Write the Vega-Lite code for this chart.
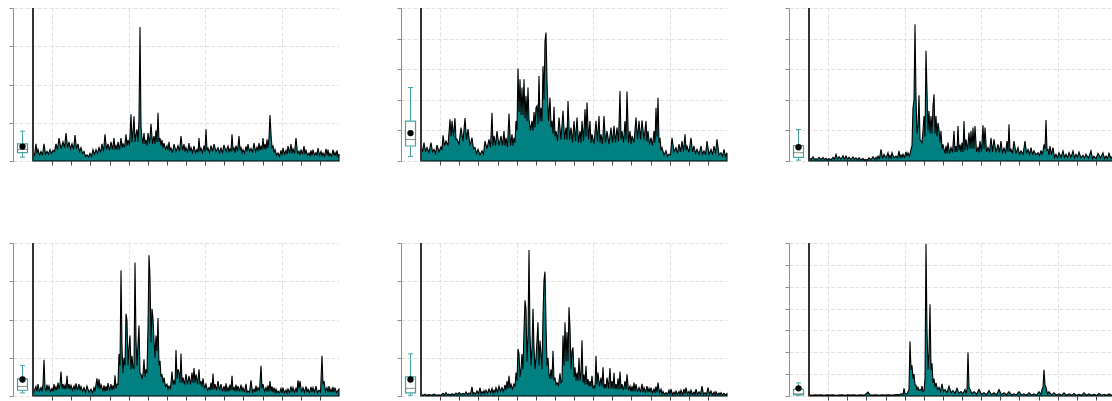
{
"$schema": "https://vega.github.io/schema/vega-lite/v6.json",
"background": "white",
"padding": {"left": 8, "top": 7, "right": 0, "bottom": 0},
"config": {"view": {"stroke": null}, "axis": {"labels": false, "title": null}, "scale": {"continuousPadding": 0}},
"datasets": {
"p1": [{"t":0,"v":0.2},{"t":1.5,"v":0.15},{"t":3,"v":0.45},{"t":4,"v":0.2},{"t":5,"v":0.3},{"t":6.5,"v":0.15},{"t":8,"v":0.25},{"t":9.5,"v":0.15},{"t":11,"v":0.45},{"t":12.5,"v":0.18},{"t":14,"v":0.25},{"t":15.5,"v":0.18},{"t":17,"v":0.3},{"t":18.5,"v":0.2},{"t":20,"v":0.28},{"t":21.5,"v":0.25},{"t":23,"v":0.45},{"t":24.5,"v":0.3},{"t":26,"v":0.6},{"t":28,"v":0.32},{"t":30,"v":0.5},{"t":31.5,"v":0.35},{"t":33,"v":0.73},{"t":34.5,"v":0.35},{"t":36,"v":0.5},{"t":37.5,"v":0.32},{"t":39,"v":0.45},{"t":40.5,"v":0.3},{"t":42,"v":0.68},{"t":43.5,"v":0.32},{"t":45,"v":0.45},{"t":46.5,"v":0.25},{"t":48,"v":0.35},{"t":49.5,"v":0.2},{"t":51,"v":0.25},{"t":52.5,"v":0.12},{"t":54,"v":0.16},{"t":55.5,"v":0.1},{"t":57,"v":0.2},{"t":58.5,"v":0.12},{"t":60,"v":0.3},{"t":61.5,"v":0.18},{"t":63,"v":0.3},{"t":64.5,"v":0.2},{"t":66,"v":0.35},{"t":67.5,"v":0.22},{"t":69,"v":0.45},{"t":70.5,"v":0.25},{"t":72,"v":0.7},{"t":73.5,"v":0.3},{"t":75,"v":0.45},{"t":76.5,"v":0.28},{"t":78,"v":0.5},{"t":79.5,"v":0.3},{"t":81,"v":0.6},{"t":82,"v":0.3},{"t":83,"v":0.4},{"t":84,"v":0.3},{"t":85,"v":0.5},{"t":86.5,"v":0.3},{"t":88,"v":0.6},{"t":89,"v":0.35},{"t":90,"v":0.45},{"t":91.5,"v":0.35},{"t":93,"v":0.7},{"t":94,"v":0.4},{"t":95,"v":0.55},{"t":96.5,"v":0.4},{"t":98,"v":1.22},{"t":99,"v":0.5},{"t":100,"v":0.78},{"t":101,"v":1.17},{"t":102,"v":0.5},{"t":103,"v":0.7},{"t":104,"v":0.83},{"t":105,"v":0.5},{"t":106,"v":1.1},{"t":107,"v":3.5},{"t":108,"v":0.9},{"t":109,"v":0.6},{"t":110,"v":0.45},{"t":111,"v":0.73},{"t":112,"v":0.45},{"t":113,"v":0.55},{"t":114,"v":0.4},{"t":115,"v":0.73},{"t":116.5,"v":0.45},{"t":118,"v":0.97},{"t":119.5,"v":0.45},{"t":121,"v":0.65},{"t":122,"v":0.45},{"t":123,"v":0.8},{"t":124,"v":0.5},{"t":125,"v":1.26},{"t":126,"v":0.5},{"t":127,"v":0.6},{"t":128,"v":0.4},{"t":129,"v":0.55},{"t":130,"v":0.35},{"t":131,"v":0.47},{"t":132.5,"v":0.3},{"t":134,"v":0.4},{"t":135,"v":0.28},{"t":136,"v":0.5},{"t":137,"v":0.28},{"t":138,"v":0.34},{"t":139.5,"v":0.22},{"t":141,"v":0.44},{"t":143,"v":0.25},{"t":145,"v":0.4},{"t":146.5,"v":0.25},{"t":148,"v":0.65},{"t":149.5,"v":0.28},{"t":151,"v":0.44},{"t":152,"v":0.25},{"t":153,"v":0.35},{"t":154.5,"v":0.22},{"t":156,"v":0.47},{"t":157,"v":0.25},{"t":158,"v":0.35},{"t":159.5,"v":0.22},{"t":161,"v":0.39},{"t":162.5,"v":0.22},{"t":164,"v":0.3},{"t":165,"v":0.22},{"t":166,"v":0.6},{"t":167,"v":0.25},{"t":168,"v":0.34},{"t":169.5,"v":0.22},{"t":171,"v":0.4},{"t":172,"v":0.25},{"t":173,"v":0.83},{"t":174,"v":0.28},{"t":175,"v":0.34},{"t":176.5,"v":0.22},{"t":178,"v":0.4},{"t":179.5,"v":0.25},{"t":181,"v":0.44},{"t":183,"v":0.25},{"t":185,"v":0.35},{"t":186.5,"v":0.22},{"t":188,"v":0.34},{"t":189.5,"v":0.22},{"t":191,"v":0.42},{"t":193,"v":0.25},{"t":195,"v":0.39},{"t":196,"v":0.25},{"t":197,"v":0.32},{"t":198,"v":0.25},{"t":199,"v":0.7},{"t":200,"v":0.3},{"t":201,"v":0.34},{"t":202,"v":0.22},{"t":203,"v":0.4},{"t":204.5,"v":0.25},{"t":206,"v":0.65},{"t":207,"v":0.28},{"t":208,"v":0.35},{"t":209,"v":0.22},{"t":210,"v":0.3},{"t":211.5,"v":0.2},{"t":213,"v":0.38},{"t":214,"v":0.25},{"t":215,"v":0.44},{"t":216.5,"v":0.25},{"t":218,"v":0.33},{"t":219.5,"v":0.22},{"t":221,"v":0.47},{"t":222.5,"v":0.25},{"t":224,"v":0.36},{"t":225,"v":0.25},{"t":226,"v":0.47},{"t":227,"v":0.28},{"t":228,"v":0.4},{"t":229,"v":0.3},{"t":230,"v":0.6},{"t":231,"v":0.3},{"t":232,"v":0.45},{"t":233,"v":0.3},{"t":234,"v":0.57},{"t":235,"v":0.35},{"t":236,"v":0.6},{"t":237,"v":1.2},{"t":238,"v":0.7},{"t":239,"v":0.35},{"t":240,"v":0.39},{"t":241,"v":0.22},{"t":242,"v":0.3},{"t":243.5,"v":0.15},{"t":245,"v":0.21},{"t":246.5,"v":0.12},{"t":248,"v":0.28},{"t":249,"v":0.15},{"t":250,"v":0.34},{"t":251.5,"v":0.18},{"t":253,"v":0.28},{"t":254,"v":0.18},{"t":255,"v":0.39},{"t":256.5,"v":0.2},{"t":258,"v":0.44},{"t":259,"v":0.2},{"t":260,"v":0.32},{"t":261.5,"v":0.2},{"t":263,"v":0.6},{"t":264.5,"v":0.2},{"t":266,"v":0.26},{"t":267,"v":0.15},{"t":268,"v":0.3},{"t":269.5,"v":0.18},{"t":271,"v":0.39},{"t":272,"v":0.18},{"t":273,"v":0.28},{"t":274.5,"v":0.15},{"t":276,"v":0.21},{"t":277,"v":0.12},{"t":278,"v":0.28},{"t":279,"v":0.15},{"t":280,"v":0.3},{"t":281.5,"v":0.15},{"t":283,"v":0.22},{"t":284,"v":0.14},{"t":285,"v":0.34},{"t":286.5,"v":0.15},{"t":288,"v":0.25},{"t":289,"v":0.14},{"t":290,"v":0.21},{"t":291.5,"v":0.12},{"t":293,"v":0.32},{"t":294,"v":0.15},{"t":295,"v":0.3},{"t":296,"v":0.12},{"t":297,"v":0.2},{"t":298.5,"v":0.12},{"t":300,"v":0.3},{"t":301,"v":0.14},{"t":302,"v":0.22},{"t":303,"v":0.14},{"t":304,"v":0.28},{"t":305,"v":0.12},{"t":306,"v":0.18}],
"p2": [{"t":0,"v":0.49},{"t":1.5,"v":0.3},{"t":3,"v":0.6},{"t":4.5,"v":0.3},{"t":6,"v":0.44},{"t":8,"v":0.28},{"t":10,"v":0.6},{"t":11.5,"v":0.3},{"t":13,"v":0.38},{"t":14.5,"v":0.25},{"t":16,"v":0.52},{"t":18,"v":0.3},{"t":20,"v":0.46},{"t":21,"v":0.35},{"t":22,"v":0.84},{"t":23.5,"v":0.5},{"t":25,"v":0.65},{"t":27,"v":0.5},{"t":29,"v":1.36},{"t":30,"v":0.8},{"t":31,"v":1.31},{"t":32.5,"v":0.8},{"t":34,"v":1.4},{"t":35,"v":0.7},{"t":36,"v":0.71},{"t":38,"v":0.55},{"t":40,"v":1.09},{"t":42,"v":0.65},{"t":44,"v":1.4},{"t":45.5,"v":0.7},{"t":47,"v":1.04},{"t":49,"v":0.5},{"t":51,"v":0.76},{"t":52.5,"v":0.4},{"t":54,"v":0.44},{"t":55.5,"v":0.25},{"t":57,"v":0.38},{"t":59,"v":0.2},{"t":61,"v":0.33},{"t":62.5,"v":0.22},{"t":64,"v":0.65},{"t":66,"v":0.4},{"t":68,"v":0.71},{"t":69.5,"v":0.45},{"t":71,"v":1.58},{"t":72,"v":0.5},{"t":73,"v":0.82},{"t":74.5,"v":0.5},{"t":76,"v":0.98},{"t":78,"v":0.5},{"t":80,"v":0.82},{"t":81.5,"v":0.5},{"t":83,"v":0.98},{"t":84,"v":0.5},{"t":85,"v":0.76},{"t":86.5,"v":0.45},{"t":88,"v":1.55},{"t":89.5,"v":0.5},{"t":91,"v":0.87},{"t":92,"v":0.5},{"t":93,"v":0.76},{"t":94,"v":0.6},{"t":95,"v":1.31},{"t":96,"v":1.0},{"t":97,"v":3.02},{"t":98,"v":1.6},{"t":99,"v":2.67},{"t":100,"v":1.5},{"t":101,"v":2.4},{"t":102,"v":1.5},{"t":103,"v":2.67},{"t":104,"v":1.4},{"t":105,"v":2.13},{"t":106,"v":1.3},{"t":107,"v":2.4},{"t":108,"v":1.36},{"t":109.5,"v":1.0},{"t":111,"v":1.31},{"t":112,"v":1.0},{"t":113,"v":1.6},{"t":114,"v":1.1},{"t":115,"v":1.74},{"t":116,"v":1.8},{"t":117,"v":1.2},{"t":118,"v":2.78},{"t":119,"v":1.3},{"t":120,"v":1.74},{"t":121,"v":1.3},{"t":122,"v":3.1},{"t":123,"v":2.0},{"t":124,"v":3.93},{"t":125,"v":4.2},{"t":126,"v":2.62},{"t":127.5,"v":1.3},{"t":129,"v":2.07},{"t":130,"v":1.1},{"t":131,"v":1.31},{"t":132,"v":0.9},{"t":133,"v":1.77},{"t":134,"v":0.8},{"t":135,"v":0.98},{"t":136.5,"v":0.65},{"t":138,"v":1.42},{"t":140,"v":0.7},{"t":142,"v":1.64},{"t":143.5,"v":0.7},{"t":145,"v":1.09},{"t":146,"v":0.7},{"t":147,"v":1.96},{"t":148.5,"v":0.7},{"t":150,"v":1.09},{"t":151.5,"v":0.6},{"t":153,"v":1.31},{"t":154.5,"v":0.65},{"t":156,"v":1.42},{"t":157.5,"v":0.6},{"t":159,"v":0.98},{"t":160,"v":0.6},{"t":161,"v":1.31},{"t":162.5,"v":0.65},{"t":164,"v":1.69},{"t":165,"v":0.8},{"t":166,"v":1.91},{"t":167.5,"v":0.7},{"t":169,"v":1.31},{"t":170,"v":0.6},{"t":171,"v":0.87},{"t":173,"v":0.55},{"t":175,"v":1.31},{"t":176.5,"v":0.65},{"t":178,"v":1.47},{"t":179,"v":0.6},{"t":180,"v":0.87},{"t":181.5,"v":0.55},{"t":183,"v":1.47},{"t":184.5,"v":0.6},{"t":186,"v":0.98},{"t":188,"v":0.55},{"t":190,"v":1.09},{"t":191.5,"v":0.6},{"t":193,"v":1.15},{"t":194.5,"v":0.6},{"t":196,"v":1.09},{"t":197.5,"v":0.65},{"t":199,"v":2.29},{"t":200,"v":0.7},{"t":201,"v":0.98},{"t":202.5,"v":0.6},{"t":204,"v":1.31},{"t":205,"v":0.7},{"t":206,"v":2.27},{"t":207.5,"v":0.6},{"t":209,"v":0.98},{"t":210,"v":0.55},{"t":211,"v":0.82},{"t":213,"v":0.6},{"t":215,"v":1.42},{"t":216.5,"v":0.7},{"t":218,"v":1.31},{"t":219.5,"v":0.7},{"t":221,"v":1.33},{"t":223,"v":0.7},{"t":225,"v":1.31},{"t":226,"v":0.65},{"t":227,"v":0.98},{"t":228.5,"v":0.55},{"t":230,"v":0.76},{"t":231.5,"v":0.5},{"t":233,"v":0.98},{"t":234,"v":0.6},{"t":235,"v":1.74},{"t":236,"v":0.8},{"t":237,"v":2.07},{"t":238,"v":0.6},{"t":239,"v":0.76},{"t":240,"v":0.35},{"t":241,"v":0.44},{"t":243,"v":0.2},{"t":245,"v":0.33},{"t":246.5,"v":0.15},{"t":248,"v":0.22},{"t":249.5,"v":0.2},{"t":251,"v":0.76},{"t":253,"v":0.3},{"t":255,"v":0.44},{"t":256.5,"v":0.25},{"t":258,"v":0.55},{"t":259.5,"v":0.3},{"t":261,"v":0.65},{"t":262.5,"v":0.3},{"t":264,"v":0.87},{"t":265,"v":0.35},{"t":266,"v":0.49},{"t":268,"v":0.28},{"t":270,"v":0.76},{"t":271.5,"v":0.3},{"t":273,"v":0.49},{"t":274.5,"v":0.25},{"t":276,"v":0.38},{"t":278,"v":0.22},{"t":280,"v":0.49},{"t":281.5,"v":0.22},{"t":283,"v":0.33},{"t":284.5,"v":0.2},{"t":286,"v":0.65},{"t":288,"v":0.22},{"t":290,"v":0.38},{"t":291.5,"v":0.2},{"t":293,"v":0.49},{"t":294.5,"v":0.25},{"t":296,"v":0.71},{"t":298,"v":0.2},{"t":300,"v":0.27},{"t":301.5,"v":0.15},{"t":303,"v":0.38},{"t":304.5,"v":0.15},{"t":306,"v":0.27}],
"p3": [{"t":0,"v":0.11},{"t":2,"v":0.05},{"t":4,"v":0.14},{"t":5.5,"v":0.05},{"t":7,"v":0.08},{"t":8.5,"v":0.04},{"t":10,"v":0.12},{"t":12,"v":0.05},{"t":14,"v":0.11},{"t":15.5,"v":0.05},{"t":17,"v":0.09},{"t":18.5,"v":0.04},{"t":20,"v":0.08},{"t":22,"v":0.04},{"t":24,"v":0.12},{"t":25.5,"v":0.06},{"t":27,"v":0.22},{"t":28.5,"v":0.06},{"t":30,"v":0.14},{"t":32,"v":0.06},{"t":34,"v":0.17},{"t":35.5,"v":0.06},{"t":37,"v":0.16},{"t":38.5,"v":0.06},{"t":40,"v":0.12},{"t":42,"v":0.05},{"t":44,"v":0.14},{"t":45.5,"v":0.05},{"t":47,"v":0.1},{"t":48.5,"v":0.04},{"t":50,"v":0.11},{"t":52,"v":0.04},{"t":54,"v":0.08},{"t":55.5,"v":0.03},{"t":57,"v":0.05},{"t":58.5,"v":0.03},{"t":60,"v":0.1},{"t":62,"v":0.04},{"t":64,"v":0.14},{"t":65.5,"v":0.05},{"t":67,"v":0.12},{"t":68,"v":0.06},{"t":69,"v":0.16},{"t":70.5,"v":0.08},{"t":72,"v":0.38},{"t":73.5,"v":0.08},{"t":75,"v":0.22},{"t":77,"v":0.1},{"t":79,"v":0.27},{"t":80,"v":0.1},{"t":81,"v":0.18},{"t":82,"v":0.1},{"t":83,"v":0.27},{"t":85,"v":0.1},{"t":87,"v":0.16},{"t":88.5,"v":0.1},{"t":90,"v":0.33},{"t":91,"v":0.12},{"t":92,"v":0.2},{"t":93,"v":0.12},{"t":94,"v":0.22},{"t":95.5,"v":0.12},{"t":97,"v":0.3},{"t":98,"v":0.15},{"t":99,"v":0.27},{"t":100.5,"v":0.15},{"t":102,"v":0.38},{"t":103,"v":0.5},{"t":104,"v":1.74},{"t":105,"v":2.0},{"t":106,"v":4.47},{"t":107,"v":2.07},{"t":108,"v":0.9},{"t":109,"v":1.14},{"t":110,"v":2.15},{"t":111,"v":0.7},{"t":112,"v":0.65},{"t":113,"v":0.6},{"t":114,"v":0.98},{"t":115,"v":1.47},{"t":116,"v":0.8},{"t":117,"v":3.6},{"t":118,"v":2.29},{"t":119,"v":1.0},{"t":120,"v":1.63},{"t":121,"v":0.9},{"t":122,"v":1.47},{"t":123,"v":0.9},{"t":124,"v":1.8},{"t":125,"v":2.18},{"t":126,"v":0.9},{"t":127,"v":1.47},{"t":128,"v":0.8},{"t":129,"v":1.25},{"t":130,"v":1.03},{"t":131,"v":0.6},{"t":132,"v":0.98},{"t":133,"v":0.4},{"t":134,"v":0.54},{"t":135,"v":0.38},{"t":136,"v":0.25},{"t":137,"v":0.5},{"t":138,"v":0.25},{"t":139,"v":0.6},{"t":140.5,"v":0.25},{"t":142,"v":0.44},{"t":143.5,"v":0.28},{"t":145,"v":0.98},{"t":146,"v":0.3},{"t":147,"v":0.49},{"t":148,"v":0.3},{"t":149,"v":1.14},{"t":150,"v":0.35},{"t":151,"v":0.54},{"t":152,"v":0.3},{"t":153,"v":0.6},{"t":154,"v":0.3},{"t":155,"v":1.31},{"t":156,"v":0.35},{"t":157,"v":0.71},{"t":158.5,"v":0.35},{"t":160,"v":0.93},{"t":161,"v":0.4},{"t":162,"v":0.98},{"t":163,"v":0.4},{"t":164,"v":1.09},{"t":165,"v":0.4},{"t":166,"v":1.14},{"t":167.5,"v":0.3},{"t":169,"v":0.44},{"t":170,"v":0.28},{"t":171,"v":0.65},{"t":172.5,"v":0.3},{"t":174,"v":1.17},{"t":175,"v":0.4},{"t":176,"v":1.09},{"t":177.5,"v":0.3},{"t":179,"v":0.44},{"t":180.5,"v":0.28},{"t":182,"v":0.76},{"t":183.5,"v":0.3},{"t":185,"v":0.71},{"t":187,"v":0.28},{"t":189,"v":0.54},{"t":190.5,"v":0.28},{"t":192,"v":0.65},{"t":193.5,"v":0.25},{"t":195,"v":0.44},{"t":196.5,"v":0.25},{"t":198,"v":0.65},{"t":199,"v":0.3},{"t":200,"v":1.2},{"t":201,"v":0.3},{"t":202,"v":0.38},{"t":203.5,"v":0.25},{"t":205,"v":0.65},{"t":207,"v":0.25},{"t":209,"v":0.44},{"t":210.5,"v":0.22},{"t":212,"v":0.33},{"t":214,"v":0.22},{"t":216,"v":0.65},{"t":217.5,"v":0.25},{"t":219,"v":0.38},{"t":220.5,"v":0.22},{"t":222,"v":0.44},{"t":223.5,"v":0.22},{"t":225,"v":0.33},{"t":227,"v":0.2},{"t":229,"v":0.27},{"t":230.5,"v":0.18},{"t":232,"v":0.35},{"t":233,"v":0.2},{"t":234,"v":0.33},{"t":235,"v":0.54},{"t":236,"v":0.4},{"t":237,"v":1.34},{"t":238,"v":0.35},{"t":239,"v":0.38},{"t":240,"v":0.2},{"t":241,"v":0.49},{"t":242.5,"v":0.2},{"t":244,"v":0.44},{"t":245.5,"v":0.12},{"t":247,"v":0.22},{"t":248.5,"v":0.1},{"t":250,"v":0.27},{"t":252,"v":0.12},{"t":254,"v":0.33},{"t":255.5,"v":0.12},{"t":257,"v":0.22},{"t":258.5,"v":0.1},{"t":260,"v":0.27},{"t":262,"v":0.12},{"t":264,"v":0.33},{"t":265.5,"v":0.1},{"t":267,"v":0.22},{"t":268.5,"v":0.12},{"t":270,"v":0.29},{"t":272,"v":0.1},{"t":274,"v":0.19},{"t":275.5,"v":0.1},{"t":277,"v":0.22},{"t":279.5,"v":0.1},{"t":282,"v":0.33},{"t":283.5,"v":0.08},{"t":285,"v":0.16},{"t":287,"v":0.08},{"t":289,"v":0.25},{"t":291.5,"v":0.1},{"t":294,"v":0.27},{"t":295.5,"v":0.08},{"t":297,"v":0.16},{"t":298.5,"v":0.08},{"t":300,"v":0.25},{"t":302,"v":0.08},{"t":304,"v":0.19},{"t":305,"v":0.1},{"t":306,"v":0.2}],
"p4": [{"t":0,"v":0.18},{"t":1,"v":0.12},{"t":3,"v":0.25},{"t":4,"v":0.12},{"t":5,"v":0.31},{"t":6.5,"v":0.12},{"t":8,"v":0.22},{"t":9,"v":0.12},{"t":10,"v":0.3},{"t":11,"v":0.95},{"t":12,"v":0.22},{"t":13,"v":0.12},{"t":14,"v":0.3},{"t":15,"v":0.15},{"t":16,"v":0.26},{"t":17.5,"v":0.12},{"t":19,"v":0.2},{"t":20,"v":0.12},{"t":21,"v":0.31},{"t":22,"v":0.15},{"t":23,"v":0.24},{"t":24,"v":0.15},{"t":25,"v":0.35},{"t":26,"v":0.18},{"t":27,"v":0.3},{"t":28,"v":0.64},{"t":29,"v":0.2},{"t":30,"v":0.31},{"t":31,"v":0.18},{"t":32,"v":0.28},{"t":33,"v":0.18},{"t":34,"v":0.53},{"t":35,"v":0.2},{"t":36,"v":0.31},{"t":37,"v":0.18},{"t":38,"v":0.28},{"t":39.5,"v":0.15},{"t":41,"v":0.26},{"t":42,"v":0.15},{"t":43,"v":0.33},{"t":44.5,"v":0.15},{"t":46,"v":0.31},{"t":47,"v":0.15},{"t":48,"v":0.25},{"t":49.5,"v":0.12},{"t":51,"v":0.22},{"t":52.5,"v":0.1},{"t":54,"v":0.26},{"t":56,"v":0.1},{"t":58,"v":0.18},{"t":59.5,"v":0.08},{"t":61,"v":0.22},{"t":62,"v":0.12},{"t":63,"v":0.3},{"t":64,"v":0.46},{"t":65,"v":0.2},{"t":66,"v":0.44},{"t":67,"v":0.18},{"t":68,"v":0.3},{"t":69,"v":0.22},{"t":70,"v":0.12},{"t":71,"v":0.28},{"t":72,"v":0.12},{"t":73,"v":0.26},{"t":74,"v":0.14},{"t":75,"v":0.34},{"t":76.5,"v":0.14},{"t":78,"v":0.31},{"t":79,"v":0.15},{"t":80,"v":0.28},{"t":81,"v":0.18},{"t":82,"v":0.54},{"t":83,"v":0.2},{"t":84,"v":0.31},{"t":85,"v":0.3},{"t":86,"v":1.1},{"t":87,"v":0.8},{"t":88,"v":3.29},{"t":89,"v":1.27},{"t":90,"v":0.6},{"t":91,"v":1.0},{"t":92,"v":0.8},{"t":93,"v":2.15},{"t":94,"v":1.97},{"t":95,"v":0.8},{"t":96,"v":1.27},{"t":97,"v":1.58},{"t":98,"v":0.7},{"t":99,"v":1.05},{"t":100,"v":0.75},{"t":101,"v":0.7},{"t":102,"v":3.49},{"t":103,"v":1.45},{"t":104,"v":0.8},{"t":105,"v":1.36},{"t":106,"v":1.84},{"t":107,"v":0.6},{"t":108,"v":0.57},{"t":109,"v":0.45},{"t":110,"v":0.57},{"t":111,"v":0.96},{"t":112,"v":0.5},{"t":113,"v":0.7},{"t":114,"v":0.6},{"t":115,"v":1.8},{"t":116,"v":3.68},{"t":117,"v":3.11},{"t":118,"v":1.4},{"t":119,"v":2.28},{"t":120,"v":2.02},{"t":121,"v":1.45},{"t":122,"v":1.0},{"t":123,"v":1.58},{"t":124,"v":1.18},{"t":125,"v":2.04},{"t":126,"v":0.8},{"t":127,"v":0.92},{"t":128,"v":0.5},{"t":129,"v":0.57},{"t":130,"v":0.35},{"t":131,"v":0.48},{"t":132.5,"v":0.25},{"t":134,"v":0.31},{"t":135,"v":0.18},{"t":136,"v":0.26},{"t":137.5,"v":0.2},{"t":139,"v":0.64},{"t":140,"v":0.3},{"t":141,"v":0.39},{"t":142,"v":0.3},{"t":143,"v":1.2},{"t":144,"v":0.45},{"t":145,"v":0.7},{"t":146,"v":0.61},{"t":147,"v":0.35},{"t":148,"v":1.11},{"t":149,"v":0.35},{"t":150,"v":0.48},{"t":151.5,"v":0.3},{"t":153,"v":0.57},{"t":154.5,"v":0.3},{"t":156,"v":0.53},{"t":157.5,"v":0.3},{"t":159,"v":0.61},{"t":160,"v":0.35},{"t":161,"v":0.73},{"t":162,"v":0.35},{"t":163,"v":0.57},{"t":164.5,"v":0.3},{"t":166,"v":0.7},{"t":167,"v":0.3},{"t":168,"v":0.39},{"t":169,"v":0.25},{"t":170,"v":0.46},{"t":171.5,"v":0.2},{"t":173,"v":0.31},{"t":174.5,"v":0.15},{"t":176,"v":0.22},{"t":177,"v":0.15},{"t":178,"v":0.35},{"t":179,"v":0.15},{"t":180,"v":0.59},{"t":181,"v":0.18},{"t":182,"v":0.31},{"t":183.5,"v":0.15},{"t":185,"v":0.39},{"t":186.5,"v":0.15},{"t":188,"v":0.31},{"t":189.5,"v":0.12},{"t":191,"v":0.26},{"t":192,"v":0.12},{"t":193,"v":0.33},{"t":194,"v":0.12},{"t":195,"v":0.22},{"t":196,"v":0.12},{"t":197,"v":0.3},{"t":198,"v":0.15},{"t":199,"v":0.53},{"t":200,"v":0.15},{"t":201,"v":0.22},{"t":202,"v":0.12},{"t":203,"v":0.3},{"t":204,"v":0.12},{"t":205,"v":0.26},{"t":206.5,"v":0.12},{"t":208,"v":0.3},{"t":209,"v":0.12},{"t":210,"v":0.22},{"t":211.5,"v":0.1},{"t":213,"v":0.32},{"t":214,"v":0.1},{"t":215,"v":0.13},{"t":216.5,"v":0.1},{"t":218,"v":0.41},{"t":219.5,"v":0.1},{"t":221,"v":0.18},{"t":222,"v":0.1},{"t":223,"v":0.27},{"t":224,"v":0.12},{"t":225,"v":0.22},{"t":226.5,"v":0.15},{"t":228,"v":0.79},{"t":229,"v":0.2},{"t":230,"v":0.31},{"t":231.5,"v":0.12},{"t":233,"v":0.22},{"t":234,"v":0.12},{"t":235,"v":0.28},{"t":236,"v":0.12},{"t":237,"v":0.39},{"t":238,"v":0.12},{"t":239,"v":0.25},{"t":240,"v":0.1},{"t":241,"v":0.22},{"t":242,"v":0.1},{"t":243,"v":0.18},{"t":244,"v":0.08},{"t":245,"v":0.13},{"t":246.5,"v":0.08},{"t":248,"v":0.2},{"t":249,"v":0.08},{"t":250,"v":0.22},{"t":251.5,"v":0.08},{"t":253,"v":0.16},{"t":254,"v":0.08},{"t":255,"v":0.18},{"t":256.5,"v":0.08},{"t":258,"v":0.25},{"t":259,"v":0.1},{"t":260,"v":0.22},{"t":261.5,"v":0.1},{"t":263,"v":0.2},{"t":264,"v":0.1},{"t":265,"v":0.41},{"t":266,"v":0.2},{"t":267,"v":0.39},{"t":268.5,"v":0.1},{"t":270,"v":0.22},{"t":271.5,"v":0.1},{"t":273,"v":0.25},{"t":274,"v":0.1},{"t":275,"v":0.18},{"t":276.5,"v":0.08},{"t":278,"v":0.24},{"t":279,"v":0.1},{"t":280,"v":0.22},{"t":281.5,"v":0.1},{"t":283,"v":0.26},{"t":284.5,"v":0.08},{"t":286,"v":0.15},{"t":287.5,"v":0.1},{"t":289,"v":1.05},{"t":290,"v":0.3},{"t":291,"v":0.39},{"t":292.5,"v":0.12},{"t":294,"v":0.22},{"t":295,"v":0.1},{"t":296,"v":0.26},{"t":297,"v":0.1},{"t":298,"v":0.18},{"t":299,"v":0.1},{"t":300,"v":0.24},{"t":301,"v":0.1},{"t":302,"v":0.22},{"t":303.5,"v":0.08},{"t":305,"v":0.15},{"t":306,"v":0.18}],
"p5": [{"t":0,"v":0.04},{"t":2,"v":0.02},{"t":4,"v":0.05},{"t":6,"v":0.02},{"t":8,"v":0.04},{"t":10.5,"v":0.02},{"t":13,"v":0.05},{"t":15.5,"v":0.02},{"t":18,"v":0.03},{"t":20,"v":0.02},{"t":22,"v":0.07},{"t":23.5,"v":0.03},{"t":25,"v":0.09},{"t":26.5,"v":0.03},{"t":28,"v":0.05},{"t":29.5,"v":0.03},{"t":31,"v":0.06},{"t":33,"v":0.03},{"t":35,"v":0.08},{"t":36.5,"v":0.04},{"t":38,"v":0.09},{"t":40,"v":0.04},{"t":42,"v":0.07},{"t":43.5,"v":0.04},{"t":45,"v":0.11},{"t":46.5,"v":0.04},{"t":48,"v":0.08},{"t":49.5,"v":0.05},{"t":51,"v":0.24},{"t":52,"v":0.05},{"t":53,"v":0.09},{"t":54.5,"v":0.05},{"t":56,"v":0.13},{"t":57.5,"v":0.06},{"t":59,"v":0.22},{"t":60,"v":0.06},{"t":61,"v":0.11},{"t":62,"v":0.06},{"t":63,"v":0.14},{"t":64,"v":0.07},{"t":65,"v":0.15},{"t":66.5,"v":0.07},{"t":68,"v":0.18},{"t":69.5,"v":0.08},{"t":71,"v":0.2},{"t":72,"v":0.08},{"t":73,"v":0.15},{"t":74,"v":0.1},{"t":75,"v":0.22},{"t":76.5,"v":0.1},{"t":78,"v":0.26},{"t":79.5,"v":0.12},{"t":81,"v":0.22},{"t":82.5,"v":0.12},{"t":84,"v":0.29},{"t":85,"v":0.15},{"t":86,"v":0.39},{"t":87,"v":0.2},{"t":88,"v":0.53},{"t":89,"v":0.2},{"t":90,"v":0.31},{"t":91.5,"v":0.18},{"t":93,"v":0.31},{"t":94,"v":0.25},{"t":95,"v":0.61},{"t":96,"v":0.4},{"t":97,"v":1.23},{"t":98,"v":1.1},{"t":99,"v":0.5},{"t":100,"v":0.7},{"t":101,"v":1.1},{"t":102,"v":0.7},{"t":103,"v":1.71},{"t":104,"v":2.5},{"t":105,"v":2.28},{"t":106,"v":0.9},{"t":107,"v":1.58},{"t":108,"v":3.82},{"t":109,"v":1.62},{"t":110,"v":0.8},{"t":111,"v":1.27},{"t":112,"v":2.28},{"t":113,"v":1.27},{"t":114,"v":0.7},{"t":115,"v":1.0},{"t":116,"v":1.45},{"t":117,"v":1.93},{"t":118,"v":0.8},{"t":119,"v":1.45},{"t":120,"v":1.1},{"t":121,"v":0.7},{"t":122,"v":2.1},{"t":123,"v":3.03},{"t":124,"v":3.25},{"t":125,"v":1.89},{"t":126,"v":0.8},{"t":127,"v":1.0},{"t":128,"v":0.57},{"t":129,"v":0.45},{"t":130,"v":0.7},{"t":131,"v":0.45},{"t":132,"v":1.18},{"t":133,"v":0.4},{"t":134,"v":0.48},{"t":135,"v":0.3},{"t":136,"v":0.35},{"t":137.5,"v":0.28},{"t":139,"v":0.59},{"t":140,"v":0.35},{"t":141,"v":0.39},{"t":142,"v":1.58},{"t":143,"v":0.8},{"t":144,"v":1.93},{"t":145,"v":0.9},{"t":146,"v":1.67},{"t":147,"v":0.9},{"t":148,"v":2.32},{"t":149,"v":1.8},{"t":150,"v":0.7},{"t":151,"v":1.18},{"t":152,"v":1.27},{"t":153,"v":0.5},{"t":154,"v":0.75},{"t":155,"v":0.4},{"t":156,"v":0.61},{"t":157,"v":0.4},{"t":158,"v":1.0},{"t":159,"v":0.4},{"t":160,"v":0.61},{"t":161,"v":1.46},{"t":162,"v":0.35},{"t":163,"v":0.57},{"t":164,"v":0.3},{"t":165,"v":0.79},{"t":166,"v":0.3},{"t":167,"v":0.44},{"t":168,"v":0.25},{"t":169,"v":0.39},{"t":170,"v":0.25},{"t":171,"v":0.53},{"t":172,"v":0.2},{"t":173,"v":0.26},{"t":174,"v":0.2},{"t":175,"v":1.05},{"t":176,"v":0.3},{"t":177,"v":0.61},{"t":178.5,"v":0.25},{"t":180,"v":0.48},{"t":181,"v":0.25},{"t":182,"v":0.75},{"t":183,"v":0.2},{"t":184,"v":0.31},{"t":185,"v":0.2},{"t":186,"v":0.48},{"t":187.5,"v":0.2},{"t":189,"v":0.73},{"t":190,"v":0.2},{"t":191,"v":0.39},{"t":192,"v":0.2},{"t":193,"v":0.61},{"t":194,"v":0.18},{"t":195,"v":0.31},{"t":196,"v":0.18},{"t":197,"v":0.46},{"t":198,"v":0.18},{"t":199,"v":0.64},{"t":200,"v":0.18},{"t":201,"v":0.31},{"t":202.5,"v":0.15},{"t":204,"v":0.39},{"t":205,"v":0.18},{"t":206,"v":0.57},{"t":207.5,"v":0.15},{"t":209,"v":0.26},{"t":210,"v":0.12},{"t":211,"v":0.26},{"t":212,"v":0.12},{"t":213,"v":0.35},{"t":214,"v":0.12},{"t":215,"v":0.31},{"t":216.5,"v":0.1},{"t":218,"v":0.22},{"t":219.5,"v":0.1},{"t":221,"v":0.32},{"t":222,"v":0.1},{"t":223,"v":0.22},{"t":224.5,"v":0.1},{"t":226,"v":0.26},{"t":227,"v":0.1},{"t":228,"v":0.2},{"t":229,"v":0.1},{"t":230,"v":0.22},{"t":231.5,"v":0.08},{"t":233,"v":0.18},{"t":234,"v":0.08},{"t":235,"v":0.25},{"t":236,"v":0.1},{"t":237,"v":0.35},{"t":238.5,"v":0.08},{"t":240,"v":0.18},{"t":241,"v":0.05},{"t":242,"v":0.12},{"t":243.5,"v":0.04},{"t":245,"v":0.09},{"t":246.5,"v":0.04},{"t":248,"v":0.15},{"t":249,"v":0.04},{"t":250,"v":0.18},{"t":251.5,"v":0.04},{"t":253,"v":0.1},{"t":254,"v":0.04},{"t":255,"v":0.13},{"t":256.5,"v":0.04},{"t":258,"v":0.12},{"t":259,"v":0.04},{"t":260,"v":0.15},{"t":261.5,"v":0.04},{"t":263,"v":0.18},{"t":264,"v":0.05},{"t":265,"v":0.22},{"t":266.5,"v":0.05},{"t":268,"v":0.12},{"t":269,"v":0.04},{"t":270,"v":0.15},{"t":271.5,"v":0.04},{"t":273,"v":0.1},{"t":274,"v":0.04},{"t":275,"v":0.18},{"t":276.5,"v":0.04},{"t":278,"v":0.11},{"t":279.5,"v":0.04},{"t":281,"v":0.26},{"t":282.5,"v":0.04},{"t":284,"v":0.09},{"t":285.5,"v":0.04},{"t":287,"v":0.22},{"t":288.5,"v":0.04},{"t":290,"v":0.13},{"t":291.5,"v":0.03},{"t":293,"v":0.1},{"t":294,"v":0.03},{"t":295,"v":0.11},{"t":296.5,"v":0.03},{"t":298,"v":0.08},{"t":299,"v":0.03},{"t":300,"v":0.09},{"t":301.5,"v":0.03},{"t":303,"v":0.07},{"t":304.5,"v":0.03},{"t":306,"v":0.06}],
"p6": [{"t":0,"v":0.05},{"t":3,"v":0.03},{"t":6,"v":0.05},{"t":9,"v":0.04},{"t":12,"v":0.06},{"t":15,"v":0.03},{"t":18,"v":0.05},{"t":21,"v":0.04},{"t":24,"v":0.05},{"t":27,"v":0.03},{"t":30,"v":0.04},{"t":33,"v":0.05},{"t":36,"v":0.03},{"t":39,"v":0.05},{"t":42,"v":0.04},{"t":45,"v":0.05},{"t":48,"v":0.03},{"t":51,"v":0.05},{"t":54,"v":0.04},{"t":56,"v":0.06},{"t":59,"v":0.18},{"t":61,"v":0.05},{"t":64,"v":0.04},{"t":67,"v":0.05},{"t":70,"v":0.03},{"t":73,"v":0.05},{"t":76,"v":0.04},{"t":79,"v":0.05},{"t":82,"v":0.04},{"t":85,"v":0.05},{"t":88,"v":0.07},{"t":90,"v":0.05},{"t":92,"v":0.1},{"t":94,"v":0.08},{"t":95,"v":0.35},{"t":96,"v":0.1},{"t":98,"v":0.1},{"t":100,"v":0.3},{"t":101,"v":2.5},{"t":102,"v":1.2},{"t":103,"v":1.4},{"t":104,"v":0.8},{"t":105,"v":1.0},{"t":106,"v":0.5},{"t":107,"v":0.5},{"t":108,"v":0.3},{"t":109,"v":0.4},{"t":110,"v":0.25},{"t":111,"v":0.3},{"t":112,"v":0.25},{"t":113,"v":0.45},{"t":114,"v":0.2},{"t":115,"v":0.25},{"t":116,"v":0.8},{"t":117,"v":6.96},{"t":118,"v":3.0},{"t":119,"v":1.2},{"t":120,"v":2.0},{"t":121,"v":4.2},{"t":122,"v":1.2},{"t":123,"v":1.5},{"t":124,"v":0.6},{"t":125,"v":0.8},{"t":126,"v":0.4},{"t":127,"v":0.6},{"t":128.5,"v":0.3},{"t":130,"v":0.4},{"t":131.5,"v":0.2},{"t":133,"v":0.55},{"t":134.5,"v":0.2},{"t":136,"v":0.3},{"t":138,"v":0.15},{"t":140,"v":0.45},{"t":142,"v":0.15},{"t":144,"v":0.25},{"t":146,"v":0.12},{"t":148,"v":0.35},{"t":150,"v":0.12},{"t":152,"v":0.2},{"t":154,"v":0.1},{"t":156,"v":0.3},{"t":157,"v":0.1},{"t":158,"v":0.3},{"t":159,"v":2.0},{"t":160,"v":0.4},{"t":161,"v":0.3},{"t":163,"v":0.1},{"t":165,"v":0.2},{"t":167.5,"v":0.08},{"t":170,"v":0.3},{"t":172.5,"v":0.08},{"t":175,"v":0.15},{"t":177.5,"v":0.06},{"t":180,"v":0.25},{"t":182.5,"v":0.06},{"t":185,"v":0.15},{"t":187.5,"v":0.06},{"t":190,"v":0.3},{"t":192.5,"v":0.06},{"t":195,"v":0.15},{"t":197.5,"v":0.05},{"t":200,"v":0.2},{"t":202.5,"v":0.05},{"t":205,"v":0.1},{"t":207.5,"v":0.05},{"t":210,"v":0.2},{"t":212.5,"v":0.05},{"t":215,"v":0.1},{"t":217.5,"v":0.04},{"t":220,"v":0.15},{"t":222.5,"v":0.04},{"t":225,"v":0.1},{"t":227.5,"v":0.04},{"t":230,"v":0.2},{"t":232,"v":0.08},{"t":233,"v":0.3},{"t":234,"v":0.4},{"t":235,"v":1.2},{"t":236,"v":0.5},{"t":237,"v":0.4},{"t":238.5,"v":0.1},{"t":240,"v":0.2},{"t":242.5,"v":0.04},{"t":245,"v":0.15},{"t":247.5,"v":0.04},{"t":250,"v":0.1},{"t":252.5,"v":0.03},{"t":255,"v":0.15},{"t":257.5,"v":0.03},{"t":260,"v":0.1},{"t":262.5,"v":0.03},{"t":265,"v":0.12},{"t":267.5,"v":0.03},{"t":270,"v":0.08},{"t":272.5,"v":0.03},{"t":275,"v":0.15},{"t":277.5,"v":0.03},{"t":280,"v":0.1},{"t":282.5,"v":0.03},{"t":285,"v":0.08},{"t":287.5,"v":0.03},{"t":290,"v":0.12},{"t":292.5,"v":0.03},{"t":295,"v":0.08},{"t":297.5,"v":0.03},{"t":300,"v":0.1},{"t":303,"v":0.03},{"t":306,"v":0.06}]
},
"columns": 3,
"spacing": {"row": 75, "column": 54},
"concat": [
{"width": 326, "height": 153, "data": {"name": "p1"}, "resolve": {"axis": {"x": "independent"}},
 "layer": [
  {"mark": {"type": "area", "color": "#008080", "stroke": "#000", "strokeWidth": 1.1},
   "encoding": {"x": {"field": "t", "type": "quantitative", "scale": {"domain": [-20, 306], "nice": false, "zero": false, "padding": 0}, "axis": {"values": [19.125,38.25,57.375,76.5,95.625,114.75,133.875,153,172.125,191.25,210.375,229.5,248.625,267.75,286.875], "domain": false, "grid": false, "tickColor": "#444", "tickSize": 4}},
    "y": {"field": "v", "type": "quantitative", "scale": {"domain": [0, 4], "nice": false}, "axis": {"title": null, "values": [0,1,2,3,4], "domainColor": "#8c8c8c", "tickColor": "#8c8c8c", "tickSize": 4, "grid": true, "gridColor": "#e2e2e2", "gridDash": [4, 2]}}}},
  {"data": {"values": [{}]}, "mark": {"type": "rule", "color": "#333", "strokeWidth": 2},
   "encoding": {"x": {"datum": 0, "type": "quantitative", "axis": {"orient": "top", "values": [19.125, 95.625, 172.125, 248.625], "ticks": false, "domain": false, "grid": true, "gridColor": "#e2e2e2", "gridDash": [4, 2]}}}},
  {"mark": {"type": "boxplot", "extent": 1.5, "size": 10, "outliers": false, "box": {"fill": "white", "stroke": "#44a3a3", "strokeWidth": 1.2}, "median": {"color": "#555", "strokeWidth": 1.5}, "rule": {"color": "#44a3a3"}, "ticks": {"color": "#44a3a3", "size": 5}},
   "encoding": {"x": {"datum": -10.5, "type": "quantitative", "axis": null}, "y": {"field": "v", "type": "quantitative", "title": null, "axis": {"title": null, "values": [0,1,2,3,4], "domainColor": "#8c8c8c", "tickColor": "#8c8c8c", "tickSize": 4, "grid": true, "gridColor": "#e2e2e2", "gridDash": [4, 2]}}}},
  {"mark": {"type": "point", "filled": true, "color": "black", "size": 40, "opacity": 1},
   "encoding": {"x": {"datum": -10.5, "type": "quantitative", "axis": null}, "y": {"aggregate": "mean", "field": "v", "type": "quantitative", "title": null, "axis": {"title": null, "values": [0,1,2,3,4], "domainColor": "#8c8c8c", "tickColor": "#8c8c8c", "tickSize": 4, "grid": true, "gridColor": "#e2e2e2", "gridDash": [4, 2]}}}}
 ]},
{"width": 326, "height": 153, "data": {"name": "p2"}, "resolve": {"axis": {"x": "independent"}},
 "layer": [
  {"mark": {"type": "area", "color": "#008080", "stroke": "#000", "strokeWidth": 1.1},
   "encoding": {"x": {"field": "t", "type": "quantitative", "scale": {"domain": [-20, 306], "nice": false, "zero": false, "padding": 0}, "axis": {"values": [19.125,38.25,57.375,76.5,95.625,114.75,133.875,153,172.125,191.25,210.375,229.5,248.625,267.75,286.875], "domain": false, "grid": false, "tickColor": "#444", "tickSize": 4}},
    "y": {"field": "v", "type": "quantitative", "scale": {"domain": [0, 5], "nice": false}, "axis": {"title": null, "values": [0,1,2,3,4,5], "domainColor": "#8c8c8c", "tickColor": "#8c8c8c", "tickSize": 4, "grid": true, "gridColor": "#e2e2e2", "gridDash": [4, 2]}}}},
  {"data": {"values": [{}]}, "mark": {"type": "rule", "color": "#333", "strokeWidth": 2},
   "encoding": {"x": {"datum": 0, "type": "quantitative", "axis": {"orient": "top", "values": [19.125, 95.625, 172.125, 248.625], "ticks": false, "domain": false, "grid": true, "gridColor": "#e2e2e2", "gridDash": [4, 2]}}}},
  {"mark": {"type": "boxplot", "extent": 1.5, "size": 10, "outliers": false, "box": {"fill": "white", "stroke": "#44a3a3", "strokeWidth": 1.2}, "median": {"color": "#555", "strokeWidth": 1.5}, "rule": {"color": "#44a3a3"}, "ticks": {"color": "#44a3a3", "size": 5}},
   "encoding": {"x": {"datum": -10.5, "type": "quantitative", "axis": null}, "y": {"field": "v", "type": "quantitative", "title": null, "axis": {"title": null, "values": [0,1,2,3,4,5], "domainColor": "#8c8c8c", "tickColor": "#8c8c8c", "tickSize": 4, "grid": true, "gridColor": "#e2e2e2", "gridDash": [4, 2]}}}},
  {"mark": {"type": "point", "filled": true, "color": "black", "size": 40, "opacity": 1},
   "encoding": {"x": {"datum": -10.5, "type": "quantitative", "axis": null}, "y": {"aggregate": "mean", "field": "v", "type": "quantitative", "title": null, "axis": {"title": null, "values": [0,1,2,3,4,5], "domainColor": "#8c8c8c", "tickColor": "#8c8c8c", "tickSize": 4, "grid": true, "gridColor": "#e2e2e2", "gridDash": [4, 2]}}}}
 ]},
{"width": 326, "height": 153, "data": {"name": "p3"}, "resolve": {"axis": {"x": "independent"}},
 "layer": [
  {"mark": {"type": "area", "color": "#008080", "stroke": "#000", "strokeWidth": 1.1},
   "encoding": {"x": {"field": "t", "type": "quantitative", "scale": {"domain": [-20, 306], "nice": false, "zero": false, "padding": 0}, "axis": {"values": [19.125,38.25,57.375,76.5,95.625,114.75,133.875,153,172.125,191.25,210.375,229.5,248.625,267.75,286.875], "domain": false, "grid": false, "tickColor": "#444", "tickSize": 4}},
    "y": {"field": "v", "type": "quantitative", "scale": {"domain": [0, 5], "nice": false}, "axis": {"title": null, "values": [0,1,2,3,4,5], "domainColor": "#8c8c8c", "tickColor": "#8c8c8c", "tickSize": 4, "grid": true, "gridColor": "#e2e2e2", "gridDash": [4, 2]}}}},
  {"data": {"values": [{}]}, "mark": {"type": "rule", "color": "#333", "strokeWidth": 2},
   "encoding": {"x": {"datum": 0, "type": "quantitative", "axis": {"orient": "top", "values": [19.125, 95.625, 172.125, 248.625], "ticks": false, "domain": false, "grid": true, "gridColor": "#e2e2e2", "gridDash": [4, 2]}}}},
  {"mark": {"type": "boxplot", "extent": 1.5, "size": 10, "outliers": false, "box": {"fill": "white", "stroke": "#44a3a3", "strokeWidth": 1.2}, "median": {"color": "#555", "strokeWidth": 1.5}, "rule": {"color": "#44a3a3"}, "ticks": {"color": "#44a3a3", "size": 5}},
   "encoding": {"x": {"datum": -10.5, "type": "quantitative", "axis": null}, "y": {"field": "v", "type": "quantitative", "title": null, "axis": {"title": null, "values": [0,1,2,3,4,5], "domainColor": "#8c8c8c", "tickColor": "#8c8c8c", "tickSize": 4, "grid": true, "gridColor": "#e2e2e2", "gridDash": [4, 2]}}}},
  {"mark": {"type": "point", "filled": true, "color": "black", "size": 40, "opacity": 1},
   "encoding": {"x": {"datum": -10.5, "type": "quantitative", "axis": null}, "y": {"aggregate": "mean", "field": "v", "type": "quantitative", "title": null, "axis": {"title": null, "values": [0,1,2,3,4,5], "domainColor": "#8c8c8c", "tickColor": "#8c8c8c", "tickSize": 4, "grid": true, "gridColor": "#e2e2e2", "gridDash": [4, 2]}}}}
 ]},
{"width": 326, "height": 153, "data": {"name": "p4"}, "resolve": {"axis": {"x": "independent"}},
 "layer": [
  {"mark": {"type": "area", "color": "#008080", "stroke": "#000", "strokeWidth": 1.1},
   "encoding": {"x": {"field": "t", "type": "quantitative", "scale": {"domain": [-20, 306], "nice": false, "zero": false, "padding": 0}, "axis": {"values": [19.125,38.25,57.375,76.5,95.625,114.75,133.875,153,172.125,191.25,210.375,229.5,248.625,267.75,286.875], "domain": false, "grid": false, "tickColor": "#444", "tickSize": 4}},
    "y": {"field": "v", "type": "quantitative", "scale": {"domain": [0, 4], "nice": false}, "axis": {"title": null, "values": [0,1,2,3,4], "domainColor": "#8c8c8c", "tickColor": "#8c8c8c", "tickSize": 4, "grid": true, "gridColor": "#e2e2e2", "gridDash": [4, 2]}}}},
  {"data": {"values": [{}]}, "mark": {"type": "rule", "color": "#333", "strokeWidth": 2},
   "encoding": {"x": {"datum": 0, "type": "quantitative", "axis": {"orient": "top", "values": [19.125, 95.625, 172.125, 248.625], "ticks": false, "domain": false, "grid": true, "gridColor": "#e2e2e2", "gridDash": [4, 2]}}}},
  {"mark": {"type": "boxplot", "extent": 1.5, "size": 10, "outliers": false, "box": {"fill": "white", "stroke": "#44a3a3", "strokeWidth": 1.2}, "median": {"color": "#555", "strokeWidth": 1.5}, "rule": {"color": "#44a3a3"}, "ticks": {"color": "#44a3a3", "size": 5}},
   "encoding": {"x": {"datum": -10.5, "type": "quantitative", "axis": null}, "y": {"field": "v", "type": "quantitative", "title": null, "axis": {"title": null, "values": [0,1,2,3,4], "domainColor": "#8c8c8c", "tickColor": "#8c8c8c", "tickSize": 4, "grid": true, "gridColor": "#e2e2e2", "gridDash": [4, 2]}}}},
  {"mark": {"type": "point", "filled": true, "color": "black", "size": 40, "opacity": 1},
   "encoding": {"x": {"datum": -10.5, "type": "quantitative", "axis": null}, "y": {"aggregate": "mean", "field": "v", "type": "quantitative", "title": null, "axis": {"title": null, "values": [0,1,2,3,4], "domainColor": "#8c8c8c", "tickColor": "#8c8c8c", "tickSize": 4, "grid": true, "gridColor": "#e2e2e2", "gridDash": [4, 2]}}}}
 ]},
{"width": 326, "height": 153, "data": {"name": "p5"}, "resolve": {"axis": {"x": "independent"}},
 "layer": [
  {"mark": {"type": "area", "color": "#008080", "stroke": "#000", "strokeWidth": 1.1},
   "encoding": {"x": {"field": "t", "type": "quantitative", "scale": {"domain": [-20, 306], "nice": false, "zero": false, "padding": 0}, "axis": {"values": [19.125,38.25,57.375,76.5,95.625,114.75,133.875,153,172.125,191.25,210.375,229.5,248.625,267.75,286.875], "domain": false, "grid": false, "tickColor": "#444", "tickSize": 4}},
    "y": {"field": "v", "type": "quantitative", "scale": {"domain": [0, 4], "nice": false}, "axis": {"title": null, "values": [0,1,2,3,4], "domainColor": "#8c8c8c", "tickColor": "#8c8c8c", "tickSize": 4, "grid": true, "gridColor": "#e2e2e2", "gridDash": [4, 2]}}}},
  {"data": {"values": [{}]}, "mark": {"type": "rule", "color": "#333", "strokeWidth": 2},
   "encoding": {"x": {"datum": 0, "type": "quantitative", "axis": {"orient": "top", "values": [19.125, 95.625, 172.125, 248.625], "ticks": false, "domain": false, "grid": true, "gridColor": "#e2e2e2", "gridDash": [4, 2]}}}},
  {"mark": {"type": "boxplot", "extent": 1.5, "size": 10, "outliers": false, "box": {"fill": "white", "stroke": "#44a3a3", "strokeWidth": 1.2}, "median": {"color": "#555", "strokeWidth": 1.5}, "rule": {"color": "#44a3a3"}, "ticks": {"color": "#44a3a3", "size": 5}},
   "encoding": {"x": {"datum": -10.5, "type": "quantitative", "axis": null}, "y": {"field": "v", "type": "quantitative", "title": null, "axis": {"title": null, "values": [0,1,2,3,4], "domainColor": "#8c8c8c", "tickColor": "#8c8c8c", "tickSize": 4, "grid": true, "gridColor": "#e2e2e2", "gridDash": [4, 2]}}}},
  {"mark": {"type": "point", "filled": true, "color": "black", "size": 40, "opacity": 1},
   "encoding": {"x": {"datum": -10.5, "type": "quantitative", "axis": null}, "y": {"aggregate": "mean", "field": "v", "type": "quantitative", "title": null, "axis": {"title": null, "values": [0,1,2,3,4], "domainColor": "#8c8c8c", "tickColor": "#8c8c8c", "tickSize": 4, "grid": true, "gridColor": "#e2e2e2", "gridDash": [4, 2]}}}}
 ]},
{"width": 326, "height": 153, "data": {"name": "p6"}, "resolve": {"axis": {"x": "independent"}},
 "layer": [
  {"mark": {"type": "area", "color": "#008080", "stroke": "#000", "strokeWidth": 1.1},
   "encoding": {"x": {"field": "t", "type": "quantitative", "scale": {"domain": [-20, 306], "nice": false, "zero": false, "padding": 0}, "axis": {"values": [19.125,38.25,57.375,76.5,95.625,114.75,133.875,153,172.125,191.25,210.375,229.5,248.625,267.75,286.875], "domain": false, "grid": false, "tickColor": "#444", "tickSize": 4}},
    "y": {"field": "v", "type": "quantitative", "scale": {"domain": [0, 7], "nice": false}, "axis": {"title": null, "values": [0,1,2,3,4,5,6,7], "domainColor": "#8c8c8c", "tickColor": "#8c8c8c", "tickSize": 4, "grid": true, "gridColor": "#e2e2e2", "gridDash": [4, 2]}}}},
  {"data": {"values": [{}]}, "mark": {"type": "rule", "color": "#333", "strokeWidth": 2},
   "encoding": {"x": {"datum": 0, "type": "quantitative", "axis": {"orient": "top", "values": [19.125, 95.625, 172.125, 248.625], "ticks": false, "domain": false, "grid": true, "gridColor": "#e2e2e2", "gridDash": [4, 2]}}}},
  {"mark": {"type": "boxplot", "extent": 1.5, "size": 10, "outliers": false, "box": {"fill": "white", "stroke": "#44a3a3", "strokeWidth": 1.2}, "median": {"color": "#555", "strokeWidth": 1.5}, "rule": {"color": "#44a3a3"}, "ticks": {"color": "#44a3a3", "size": 5}},
   "encoding": {"x": {"datum": -10.5, "type": "quantitative", "axis": null}, "y": {"field": "v", "type": "quantitative", "title": null, "axis": {"title": null, "values": [0,1,2,3,4,5,6,7], "domainColor": "#8c8c8c", "tickColor": "#8c8c8c", "tickSize": 4, "grid": true, "gridColor": "#e2e2e2", "gridDash": [4, 2]}}}},
  {"mark": {"type": "point", "filled": true, "color": "black", "size": 40, "opacity": 1},
   "encoding": {"x": {"datum": -10.5, "type": "quantitative", "axis": null}, "y": {"aggregate": "mean", "field": "v", "type": "quantitative", "title": null, "axis": {"title": null, "values": [0,1,2,3,4,5,6,7], "domainColor": "#8c8c8c", "tickColor": "#8c8c8c", "tickSize": 4, "grid": true, "gridColor": "#e2e2e2", "gridDash": [4, 2]}}}}
 ]}
]
}
